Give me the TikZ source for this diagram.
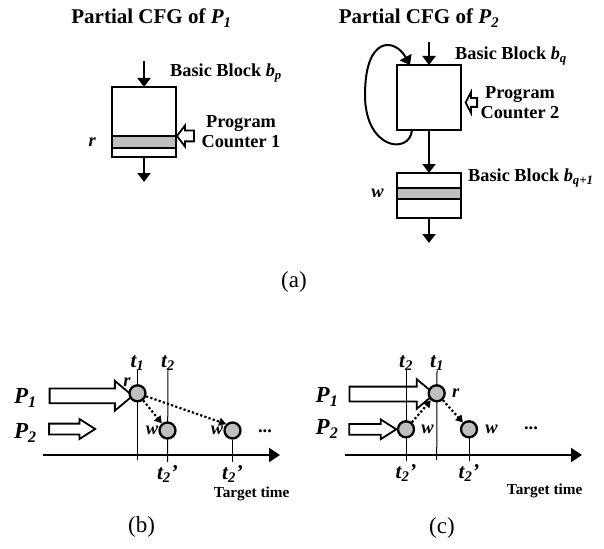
\documentclass[tikz,border=0pt]{standalone}
\usepackage{fontspec}
\setmainfont{Liberation Serif}
\usetikzlibrary{shapes.arrows, arrows.meta, positioning, calc}
\definecolor{bandgray}{RGB}{191, 191, 191}
\newcommand{\sbs}[1]{\textsubscript{#1}}
\tikzset{
  >=Stealth,
  flowarrow/.style={-{Triangle[length=9pt, width=13pt]}, line width=2pt},
  axisarrow/.style={-{Triangle[length=11pt, width=14pt]}, line width=2pt},
  dotarrow/.style={-{Triangle[length=7pt, width=8pt]}, line width=2.2pt, dash pattern=on 2.2pt off 2.2pt},
  tickline/.style={line width=1pt},
  blockpart/.style={draw, line width=2.7pt, minimum width=64pt, inner sep=0pt, outer sep=0pt},
  bandpart/.style={blockpart, fill=bandgray},
  evnode/.style={circle, draw, fill=bandgray, line width=2.3pt, minimum size=16pt, inner sep=0pt},
  hollowarrow/.style={single arrow, draw, line width=1.8pt, inner sep=0pt},
  ttl/.style={font=\fontsize{21}{24}\selectfont\bfseries, inner sep=0pt},
  lbl/.style={font=\fontsize{18.3}{20}\selectfont\bfseries, inner sep=0pt},
  vlabel/.style={font=\fontsize{18.5}{20}\selectfont\bfseries\itshape, inner sep=0pt},
  tlabel/.style={font=\fontsize{21}{23}\selectfont\bfseries\itshape, inner sep=0pt},
  plabel/.style={font=\fontsize{23}{26}\selectfont\bfseries\itshape, inner sep=0pt},
  smalllbl/.style={font=\fontsize{15.3}{17}\selectfont\bfseries, inner sep=0pt},
  caplbl/.style={font=\fontsize{23}{26}\selectfont, inner sep=0pt}
}
\begin{document}
\begin{tikzpicture}[x=1pt, y=-1pt]
    \useasboundingbox (0,0) rectangle (604,548);
    % Partial CFG of P1
    \node (ttl1) [ttl, anchor=base] at (151.5,24) {Partial CFG of \textit{P}\sbs{\textit{1}}};
    \node (bpA) [blockpart, minimum height=49pt] at (144,111.5) {};
    \node (bpB) [bandpart, minimum height=12pt, below=0pt of bpA] {};
    \node (bpC) [blockpart, minimum height=9pt, below=0pt of bpB] {};
    \coordinate (bpin) at (144,61);
    \coordinate (bpout) at (144,182);
    \draw[flowarrow] (bpin) -- (bpA.north);
    \draw[flowarrow] (bpC.south) -- (bpout);
    \node (bbp) [lbl, anchor=base west] at (170,77) {Basic Block \textit{b}\sbs{\textit{p}}};
    \node (lr) [vlabel, left=16pt of bpB] {r};
    \node (pc1) [hollowarrow, shape border rotate=180, inner ysep=4.5pt, single arrow head extend=5pt, single arrow tip angle=105, minimum height=17pt] at (187.5,136) {};
    \node (pcl1) [lbl, align=center] at (241,131.7) {Program\\Counter 1};
    % Partial CFG of P2
    \node (ttl2) [ttl, anchor=base] at (419,24) {Partial CFG of \textit{P}\sbs{\textit{2}}};
    \node (bq) [blockpart, minimum height=65pt] at (429,97.5) {};
    \node (bqA) [blockpart, minimum height=15pt] at (429,180.5) {};
    \node (bqB) [bandpart, minimum height=11pt, below=0pt of bqA] {};
    \node (bqC) [blockpart, minimum height=19pt, below=0pt of bqB] {};
    \coordinate (bqin) at (429,42);
    \coordinate (bqout) at (429,243);
    \coordinate (loopL) at (365,95);
    \draw[flowarrow] (bqin) -- (bq.north);
    \draw[flowarrow] (bq.south) -- (bqA.north);
    \draw[flowarrow] (bqC.south) -- (bqout);
    \draw[flowarrow] ([xshift=15pt]bq.south west) .. controls (410,155) and (365,150) .. (loopL)
        .. controls (365,35) and (395,38) .. ([xshift=13pt]bq.north west);
    \node (bbq) [lbl, anchor=base west] at (455,60) {Basic Block \textit{b}\sbs{\textit{q}}};
    \node (bbq1) [lbl, anchor=base west] at (468,182) {Basic Block \textit{b}\sbs{\textit{q+1}}};
    \node (lw) [vlabel, left=13pt of bqB] {w};
    \node (pc2) [hollowarrow, shape border rotate=180, inner ysep=3.5pt, single arrow head extend=6pt, single arrow tip angle=125, minimum height=11.5pt] at (472.5,102.5) {};
    \node (pcl2) [lbl, align=center] at (520,103) {Program\\Counter 2};
    \node (capa) [caplbl] at (294,282) {(a)};
    % (b) timeline
    \node (p1b) [plabel] at (25.5,398) {P\sbs{1}};
    \node (p2b) [plabel] at (25.5,433) {P\sbs{2}};
    \node (a1b) [hollowarrow, inner ysep=6.5pt, single arrow head extend=7.5pt, single arrow tip angle=80, minimum height=83pt] at (86.7,395.8) {};
    \node (a2b) [hollowarrow, inner ysep=4.5pt, single arrow head extend=4.5pt, single arrow tip angle=65, minimum height=46pt] at (67.9,429) {};
    \coordinate (axb0) at (43,455);
    \coordinate (axb1) at (280,455);
    \draw[axisarrow] (axb0) -- (axb1);
    \node (tb1) [tlabel, anchor=base] at (137.5,367) {t\sbs{1}};
    \node (tb2) [tlabel, anchor=base] at (168,367) {t\sbs{2}};
    \coordinate (tb1e) at (137.5,460);
    \coordinate (tb2e) at (167.5,462);
    \coordinate (tb3e) at (232.5,462);
    \draw[tickline] (tb1.south) -- (tb1e);
    \draw[tickline] (tb2.south) -- (tb2e);
    \node (rb) [evnode] at (137.5,393.3) {};
    \node (wb1) [evnode] at (167.5,430.5) {};
    \node (wb2) [evnode] at (232.5,430.5) {};
    \draw[tickline] (wb2.south) -- (tb3e);
    \draw[dotarrow] (rb) -- (wb1);
    \draw[dotarrow] (rb) -- (wb2.north west);
    \node (lrb) [vlabel] at (127,382) {r};
    \node (lwb1) [vlabel, left=0pt of wb1] {w};
    \node (lwb2) [vlabel, left=0pt of wb2] {w};
    \node (dotsb) [vlabel] at (265,431) {\upshape ...};
    \node (tb2p) [tlabel, below=3pt of tb2e] {t\sbs{2}'};
    \node (tb3p) [tlabel, below=3pt of tb3e] {t\sbs{2}'};
    \node (ttb) [smalllbl] at (251.7,494) {Target time};
    \node (capb) [caplbl] at (141.5,527) {(b)};
    % (c) timeline
    \node (p1c) [plabel] at (327,397) {P\sbs{1}};
    \node (p2c) [plabel] at (327,429) {P\sbs{2}};
    \node (a1c) [hollowarrow, inner ysep=6.5pt, single arrow head extend=7.5pt, single arrow tip angle=80, minimum height=85pt] at (387.5,394) {};
    \node (a2c) [hollowarrow, inner ysep=4.5pt, single arrow head extend=4.5pt, single arrow tip angle=65, minimum height=47pt] at (368.5,429.3) {};
    \coordinate (axc0) at (345,455);
    \coordinate (axc1) at (582,455);
    \draw[axisarrow] (axc0) -- (axc1);
    \node (tc2) [tlabel, anchor=base] at (406,367) {t\sbs{2}};
    \node (tc1) [tlabel, anchor=base] at (437,367) {t\sbs{1}};
    \coordinate (tc2e) at (406,461);
    \coordinate (tc1e) at (436.7,460);
    \coordinate (tc3e) at (469,461);
    \draw[tickline] (tc2.south) -- (tc2e);
    \draw[tickline] (tc1.south) -- (tc1e);
    \node (wc1) [evnode] at (406,429.3) {};
    \node (rc) [evnode] at (436.7,393.3) {};
    \node (wc2) [evnode] at (469,429.3) {};
    \draw[tickline] (wc2.south) -- (tc3e);
    \draw[dotarrow] (wc1) -- (rc);
    \draw[dotarrow] (rc) -- (wc2);
    \node (lrc) [vlabel, right=6pt of rc] {r};
    \node (lwc1) [vlabel, right=6pt of wc1] {w};
    \node (lwc2) [vlabel, right=7pt of wc2] {w};
    \node (dotsc) [vlabel] at (531,428) {\upshape ...};
    \node (tc2p) [tlabel, below=3pt of tc2e] {t\sbs{2}'};
    \node (tc3p) [tlabel, below=3pt of tc3e] {t\sbs{2}'};
    \node (ttc) [smalllbl] at (544.7,491) {Target time};
    \node (capc) [caplbl] at (442,528) {(c)};
\end{tikzpicture}
\end{document}
